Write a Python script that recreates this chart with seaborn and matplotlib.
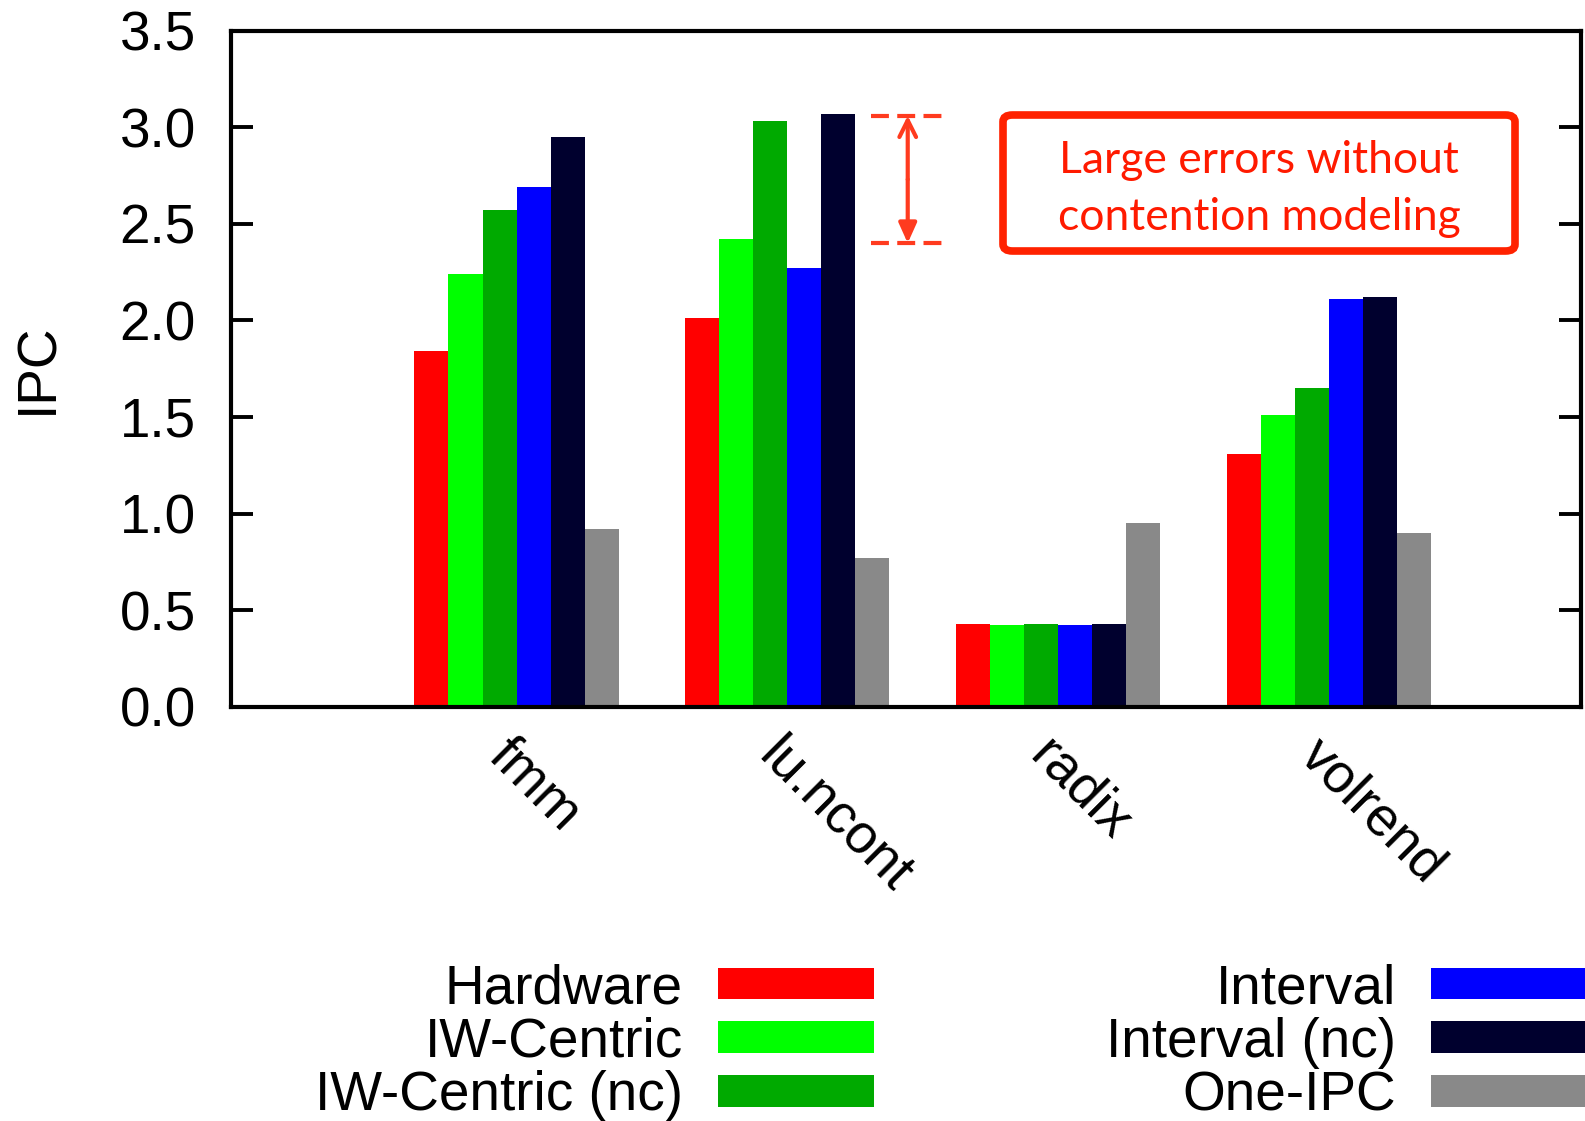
import numpy as np
import pandas as pd
import matplotlib
matplotlib.use("Agg")
import matplotlib.pyplot as plt
import matplotlib.transforms as mtransforms
from matplotlib.patches import FancyBboxPatch
import seaborn as sns

# IPC per benchmark and model
benchmarks = ["fmm", "lu.ncont", "radix", "volrend"]
models = ["Hardware", "IW-Centric", "IW-Centric (nc)", "Interval", "Interval (nc)", "One-IPC"]
hardware = [1.84, 2.01, 0.43, 1.31]
iw_centric = [2.24, 2.42, 0.425, 1.51]
iw_centric_nc = [2.57, 3.03, 0.43, 1.65]
interval = [2.69, 2.27, 0.425, 2.11]
interval_nc = [2.95, 3.07, 0.43, 2.12]
one_ipc = [0.92, 0.77, 0.95, 0.90]
colors = ["#ff0000", "#00ff00", "#00aa00", "#0000ff", "#00002e", "#898989"]

yticks = [0.0, 0.5, 1.0, 1.5, 2.0, 2.5, 3.0, 3.5]
# error range highlighted next to lu.ncont
err_top, err_bottom = 3.06, 2.40
note_text = "Large errors without\ncontention modeling"

series = [hardware, iw_centric, iw_centric_nc, interval, interval_nc, one_ipc]
df = pd.DataFrame({
    "benchmark": np.tile(benchmarks, len(models)),
    "model": np.repeat(models, len(benchmarks)),
    "ipc": np.concatenate(series),
})

sns.set_theme(style="white")
plt.rcParams["font.family"] = ["Liberation Sans", "DejaVu Sans"]
for key in ("text.color", "axes.labelcolor", "xtick.color", "ytick.color"):
    plt.rcParams[key] = "black"

FS = 39.5
W, H = 1585, 1121
fig = plt.figure(figsize=(W / 100, H / 100), dpi=100)
ax = fig.add_axes([230.5 / W, 1 - 706.7 / H, (1581 - 230.5) / W, (706.7 - 30.7) / H])

sns.barplot(data=df, x="benchmark", y="ipc", hue="model", order=benchmarks,
            hue_order=models, palette=colors, width=0.754, gap=0,
            saturation=1, edgecolor="none", linewidth=0, ax=ax, legend=True)

ax.set_xlim(-1.0566, 3.932)
ax.set_ylim(0, 3.5)
ax.set_yticks(yticks)
ax.set_yticklabels([f"{v:.1f}" for v in yticks])
ax.set_xlabel("")
ax.set_ylabel("IPC", fontsize=FS, labelpad=40)

for s in ax.spines.values():
    s.set_visible(True)
    s.set_color("black")
    s.set_linewidth(3)

ax.tick_params(axis="y", which="both", direction="in", length=16, width=2.8,
               left=True, right=True, labelsize=FS, pad=25, color="black")
ax.tick_params(axis="x", which="both", length=0, labelsize=FS, pad=8)

for lab in ax.get_xticklabels():
    lab.set_rotation(-45)
    lab.set_ha("left")
    lab.set_va("top")
    lab.set_rotation_mode("anchor")
    lab.set_transform(lab.get_transform() +
                      mtransforms.ScaledTranslation(-0.02, -0.12, fig.dpi_scale_trans))

# error range marker
err_color = "#ff3b1f"
ax.hlines([err_top, err_bottom], 1.31, 1.585, colors=err_color,
          linestyles=(0, (4.3, 2.0)), linewidth=3)
xm = 1.445
mid = (err_top + err_bottom) / 2
ax.annotate("", xy=(xm, err_top), xytext=(xm, mid),
            arrowprops=dict(arrowstyle="->,head_length=1.0,head_width=0.5",
                            color=err_color, lw=3, shrinkA=0, shrinkB=0))
ax.annotate("", xy=(xm, err_bottom), xytext=(xm, mid),
            arrowprops=dict(arrowstyle="-|>,head_length=1.0,head_width=0.45",
                            color=err_color, lw=3, shrinkA=0, shrinkB=0))

# note box
x0, x1 = 1003 / W, 1515 / W
y0, y1 = 1 - 251 / H, 1 - 115 / H
box = FancyBboxPatch((x0, y0), x1 - x0, y1 - y0, boxstyle="round,pad=0,rounding_size=0.006",
                     transform=fig.transFigure, facecolor="white", edgecolor="#ff2200",
                     linewidth=5.5, zorder=5)
fig.patches.append(box)
fig.text((x0 + x1) / 2, 1 - 189 / H, note_text, ha="center", va="center",
         color="#ff1a00", fontsize=32, family=["Lato", "DejaVu Sans"],
         linespacing=1.46, zorder=6)

# legend: two columns, labels to the left of the swatches
handles, labels = ax.get_legend_handles_labels()
ax.get_legend().remove()
leg = fig.legend(handles, labels, ncol=2, loc="upper left",
                 bbox_to_anchor=(315 / W, 1 - 963 / H), frameon=False,
                 markerfirst=False, fontsize=FS, handlelength=2.86,
                 handleheight=0.515, handletextpad=0.63, columnspacing=4.22,
                 labelspacing=0.03, borderpad=0, borderaxespad=0)

fig.savefig("out.png", dpi=100, facecolor="white")
